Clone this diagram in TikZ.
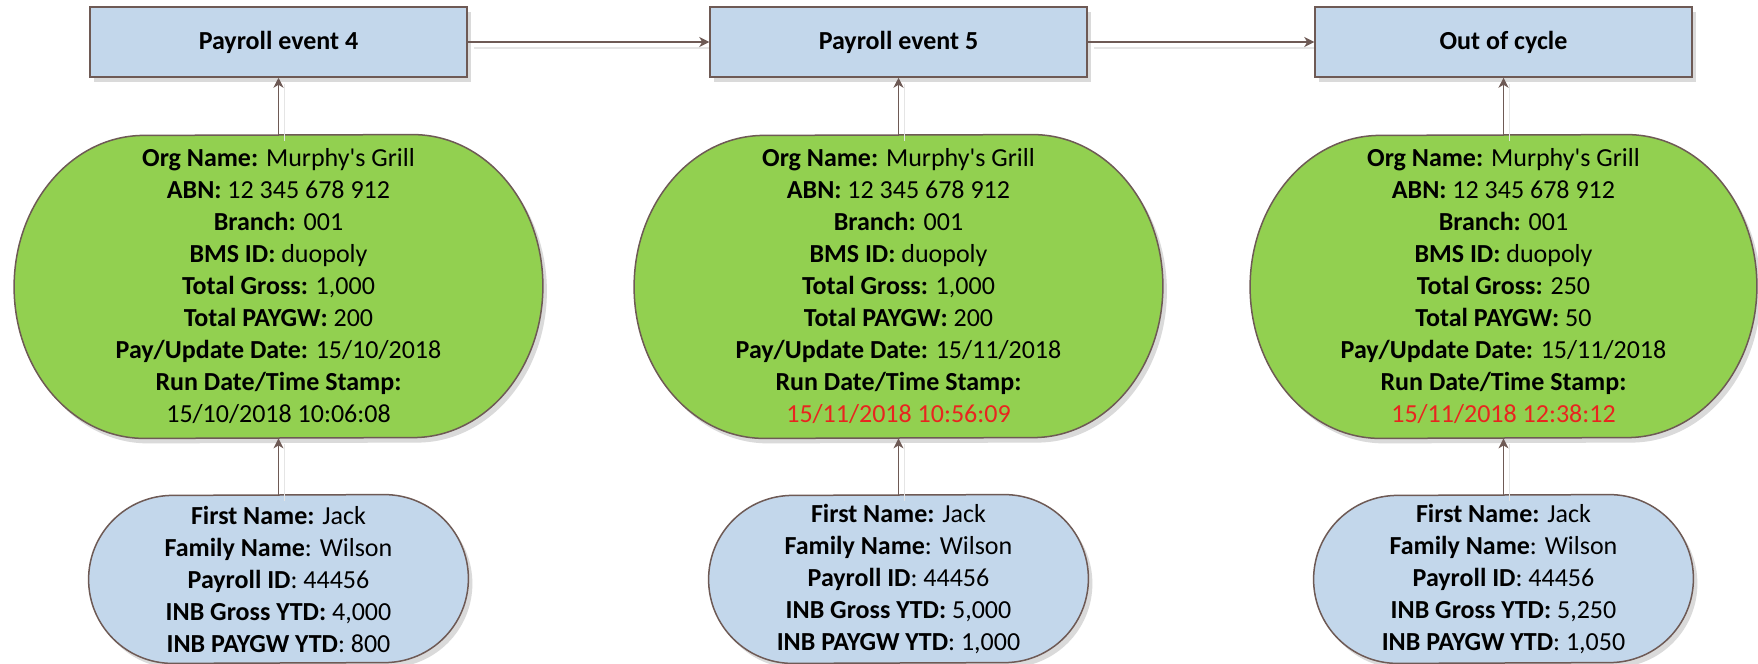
\documentclass[tikz,border=0pt]{standalone}
\usepackage{fontspec}
\setmainfont{Carlito}
\usetikzlibrary{arrows.meta,calc,shadows}
\pgfdeclarelayer{background}
\pgfdeclarelayer{paper}
\pgfsetlayers{paper,background,main}

\definecolor{boxblue}{HTML}{C3D7EB}
\definecolor{leafgreen}{HTML}{92D050}
\definecolor{edge}{HTML}{6E5A55}
\definecolor{stampred}{HTML}{E8251F}
\definecolor{shade}{HTML}{DADADA}

\tikzset{
  infotext/.style={rectangle, inner sep=0pt, align=center,
    font=\fontsize{13pt}{16pt}\selectfont},
  eventbox/.style={infotext, draw=edge, line width=0.75pt, fill=boxblue,
    minimum width=188.5pt, minimum height=35pt,
    font=\fontsize{13pt}{16pt}\selectfont\bfseries,
    drop shadow={shadow xshift=2pt, shadow yshift=-2.5pt, fill=shade, opacity=1}},
  orgoval/.style={infotext, minimum width=264pt, minimum height=151.5pt},
  empoval/.style={infotext, minimum width=189.5pt, minimum height=84pt},
  outline/.style={draw=edge, line width=0.75pt},
  ovalshadow/.style={fill=shade, transform canvas={shift={(2pt,-2.5pt)}}},
  conn/.style={draw=edge, line width=0.6pt,
    -{Stealth[length=5pt,width=5pt,inset=1.5pt]}},
  connshadow/.style={draw=black!10, line width=0.6pt},
}

% terminator outline around a node: #1 node, #2 x radius, #3 y radius, #4 options
\newcommand{\termshape}[4]{%
  \path[#4] ($(#1.north east)+(-#2,0)$)
    arc[start angle=90,end angle=-90,x radius=#2,y radius=#3]
    -- ($(#1.south west)+(#2,0)$)
    arc[start angle=270,end angle=90,x radius=#2,y radius=#3] -- cycle;}

\newcommand{\lbl}[1]{\textbf{#1}}

\begin{document}
\begin{tikzpicture}[x=0.5pt,y=0.5pt]
\useasboundingbox (0,0) rectangle (1758,-664);
\begin{pgfonlayer}{paper}
  \fill[white] (0,0) rectangle (1758,-664);
\end{pgfonlayer}

% event boxes
\node[eventbox] (b1) at (278.5,-42) {Payroll event 4};
\node[eventbox] (b2) at (898.5,-42) {Payroll event 5};
\node[eventbox] (b3) at (1503.5,-42) {Out of cycle};

% organisation records
\node[orgoval] (g1) at (278.5,-286.5) {%
  \lbl{Org Name:} Murphy\textquotesingle s Grill\\
  \lbl{ABN:} 12 345 678 912\\
  \lbl{Branch:} 001\\
  \lbl{BMS ID:} duopoly\\
  \lbl{Total Gross:} 1,000\\
  \lbl{Total PAYGW:} 200\\
  \lbl{Pay/Update Date:} 15/10/2018\\
  \lbl{Run Date/Time Stamp:}\\
  15/10/2018 10:06:08};
\node[orgoval] (g2) at (898.5,-286.5) {%
  \lbl{Org Name:} Murphy\textquotesingle s Grill\\
  \lbl{ABN:} 12 345 678 912\\
  \lbl{Branch:} 001\\
  \lbl{BMS ID:} duopoly\\
  \lbl{Total Gross:} 1,000\\
  \lbl{Total PAYGW:} 200\\
  \lbl{Pay/Update Date:} 15/11/2018\\
  \lbl{Run Date/Time Stamp:}\\
  \textcolor{stampred}{15/11/2018 10:56:09}};
\node[orgoval, minimum width=253pt] (g3) at (1503.5,-286.5) {%
  \lbl{Org Name:} Murphy\textquotesingle s Grill\\
  \lbl{ABN:} 12 345 678 912\\
  \lbl{Branch:} 001\\
  \lbl{BMS ID:} duopoly\\
  \lbl{Total Gross:} 250\\
  \lbl{Total PAYGW:} 50\\
  \lbl{Pay/Update Date:} 15/11/2018\\
  \lbl{Run Date/Time Stamp:}\\
  \textcolor{stampred}{15/11/2018 12:38:12}};

% employee records
\node[empoval] (e1) at (278.5,-579) {%
  \lbl{First Name:} Jack\\
  \lbl{Family Name}: Wilson\\
  \lbl{Payroll ID}: 44456\\
  \lbl{INB Gross YTD:} 4,000\\
  \lbl{INB PAYGW YTD}: 800};
\node[empoval] (e2) at (898.5,-579) {%
  \lbl{First Name:} Jack\\
  \lbl{Family Name}: Wilson\\
  \lbl{Payroll ID}: 44456\\
  \lbl{INB Gross YTD:} 5,000\\
  \lbl{INB PAYGW YTD}: 1,000};
\node[empoval] (e3) at (1503.5,-579) {%
  \lbl{First Name:} Jack\\
  \lbl{Family Name}: Wilson\\
  \lbl{Payroll ID}: 44456\\
  \lbl{INB Gross YTD:} 5,250\\
  \lbl{INB PAYGW YTD}: 1,050};

\begin{pgfonlayer}{background}
  \foreach \n in {g1,g2,g3} {
    \termshape{\n}{130}{151.5}{ovalshadow}
    \termshape{\n}{130}{151.5}{outline, fill=leafgreen}
  }
  \foreach \n in {e1,e2,e3} {
    \termshape{\n}{84}{84}{ovalshadow}
    \termshape{\n}{84}{84}{outline, fill=boxblue}
  }
  % faint connector shadows
  \begin{scope}[transform canvas={shift={(3pt,-3pt)}}]
    \draw[connshadow] (b1.east) -- (b2.west);
    \draw[connshadow] (b2.east) -- (b3.west);
    \foreach \a/\b in {g1/b1,g2/b2,g3/b3,e1/g1,e2/g2,e3/g3}
      \draw[connshadow] (\a.north) -- (\b.south);
  \end{scope}
\end{pgfonlayer}

% connectors
\draw[conn] (b1.east) -- (b2.west);
\draw[conn] (b2.east) -- (b3.west);
\foreach \a/\b in {g1/b1,g2/b2,g3/b3,e1/g1,e2/g2,e3/g3}
  \draw[conn] (\a.north) -- (\b.south);
\end{tikzpicture}
\end{document}
